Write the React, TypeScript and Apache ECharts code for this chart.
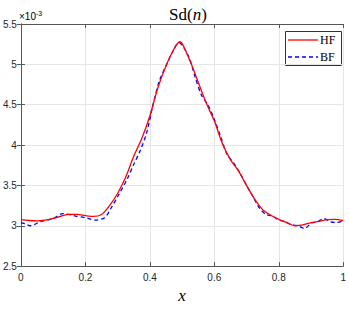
import React, { useEffect, useRef } from "react";
import * as echarts from "echarts";

const hfX = [0, 0.025, 0.05, 0.075, 0.1, 0.125, 0.15, 0.175, 0.2, 0.225, 0.25, 0.275, 0.3, 0.325, 0.35, 0.375, 0.4, 0.425, 0.45, 0.475, 0.493, 0.5, 0.525, 0.55, 0.575, 0.6, 0.625, 0.65, 0.675, 0.7, 0.725, 0.75, 0.775, 0.8, 0.825, 0.85, 0.875, 0.9, 0.925, 0.95, 0.975, 1.0];
const hfY = [3.075, 3.065, 3.06, 3.07, 3.09, 3.12, 3.14, 3.14, 3.125, 3.115, 3.14, 3.25, 3.40, 3.60, 3.86, 4.08, 4.36, 4.71, 4.98, 5.19, 5.28, 5.26, 5.04, 4.78, 4.52, 4.30, 4.02, 3.82, 3.68, 3.50, 3.33, 3.20, 3.13, 3.08, 3.04, 3.00, 3.01, 3.04, 3.055, 3.075, 3.08, 3.065];

const bfX = [0, 0.015, 0.03, 0.06, 0.1, 0.13, 0.17, 0.2, 0.23, 0.26, 0.28, 0.3, 0.33, 0.35, 0.37, 0.39, 0.41, 0.43, 0.45, 0.47, 0.49, 0.52, 0.54, 0.56, 0.58, 0.6, 0.62, 0.64, 0.66, 0.68, 0.7, 0.72, 0.74, 0.76, 0.78, 0.8, 0.82, 0.84, 0.86, 0.88, 0.9, 0.92, 0.94, 0.96, 0.98, 1.0];
const bfY = [3.04, 3.02, 3.0, 3.05, 3.09, 3.15, 3.12, 3.10, 3.07, 3.10, 3.22, 3.36, 3.58, 3.76, 3.93, 4.15, 4.50, 4.80, 4.98, 5.15, 5.27, 5.10, 4.85, 4.62, 4.50, 4.32, 4.10, 3.88, 3.78, 3.65, 3.50, 3.36, 3.22, 3.14, 3.12, 3.07, 3.05, 3.01, 3.00, 2.965, 3.03, 3.05, 3.09, 3.05, 3.04, 3.06];

const xTicks = [0, 0.2, 0.4, 0.6, 0.8, 1];
const yTicks = [2.5, 3, 3.5, 4, 4.5, 5, 5.5];
const seriesNames = ["HF", "BF"];

const axisColor = "#555555";
const labelColor = "#262626";
const serif = "Liberation Serif";
const sans = "Liberation Sans";

export default function App() {
  const ref = useRef<HTMLDivElement>(null);
  useEffect(() => {
    if (!ref.current) return;
    const chart = echarts.init(ref.current, null, { renderer: "svg" });
    const hfData = hfX.map((x, i) => [x, hfY[i]]);
    const bfData = bfX.map((x, i) => [x, bfY[i]]);
    const baseX = {
      type: "value" as const,
      min: xTicks[0],
      max: xTicks[xTicks.length - 1],
      interval: 0.2,
    };
    const baseY = {
      type: "value" as const,
      min: yTicks[0],
      max: yTicks[yTicks.length - 1],
      interval: 0.5,
    };
    const lx = 285, ly = 31, lw = 56, lh = 34;
    chart.setOption({
      animation: false,
      backgroundColor: "#ffffff",
      title: {
        text: "{a|Sd(}{b|n}{a|)}",
        left: 183,
        textAlign: "center",
        top: 1,
        textStyle: {
          fontFamily: serif,
          fontWeight: "normal",
          fontSize: 17,
          rich: {
            a: { fontFamily: serif, fontWeight: "normal", fontSize: 17, color: "#000" },
            b: { fontFamily: serif, fontWeight: "normal", fontSize: 17, fontStyle: "italic", color: "#000" },
          },
        },
      },
      grid: { left: 18, right: 1, top: 24, bottom: 33, containLabel: false },
      xAxis: [
        {
          ...baseX,
          position: "bottom",
          axisLine: { show: true, lineStyle: { color: axisColor, width: 1 } },
          axisTick: { show: true, inside: true, length: 4, lineStyle: { color: axisColor } },
          axisLabel: { color: labelColor, fontFamily: sans, fontSize: 10, margin: 6 },
          splitLine: { show: true, lineStyle: { color: "#e6e6e6", width: 1 } },
          name: "x",
          nameLocation: "middle",
          nameGap: 19,
          nameTextStyle: { fontFamily: serif, fontStyle: "italic", fontSize: 17, color: "#000" },
        },
        {
          ...baseX,
          position: "top",
          axisLine: { show: true, lineStyle: { color: axisColor, width: 1 } },
          axisTick: { show: true, inside: true, length: 4, lineStyle: { color: axisColor } },
          axisLabel: { show: false },
          splitLine: { show: false },
        },
      ],
      yAxis: [
        {
          ...baseY,
          position: "left",
          axisLine: { show: true, lineStyle: { color: axisColor, width: 1 } },
          axisTick: { show: true, inside: true, length: 4, lineStyle: { color: axisColor } },
          axisLabel: { color: labelColor, fontFamily: sans, fontSize: 10, margin: 4 },
          splitLine: { show: true, lineStyle: { color: "#e6e6e6", width: 1 } },
        },
        {
          ...baseY,
          position: "right",
          axisLine: { show: true, lineStyle: { color: axisColor, width: 1 } },
          axisTick: { show: true, inside: true, length: 4, lineStyle: { color: axisColor } },
          axisLabel: { show: false },
          splitLine: { show: false },
        },
      ],
      graphic: [
        {
          type: "text",
          left: 19,
          top: 10,
          style: {
            text: "{a|×10}{b|-3}",
            rich: {
              a: { fontFamily: sans, fontSize: 10, color: labelColor },
              b: { fontFamily: sans, fontSize: 7, color: labelColor, verticalAlign: "top", padding: [0, 0, 6, 0] },
            },
          },
        },
        {
          type: "group",
          z: 100,
          children: [
            {
              type: "rect",
              shape: { x: lx + 0.5, y: ly + 0.5, width: lw, height: lh },
              style: { fill: "#fff", stroke: "#333", lineWidth: 1 },
            },
            {
              type: "line",
              shape: { x1: lx + 3, y1: ly + 9, x2: lx + 33, y2: ly + 9 },
              style: { stroke: "#ff0000", lineWidth: 1.3 },
            },
            {
              type: "line",
              shape: { x1: lx + 3, y1: ly + 26, x2: lx + 33, y2: ly + 26 },
              style: { stroke: "#0000ff", lineWidth: 1.3, lineDash: [4, 3] },
            },
            {
              type: "text",
              x: lx + 35,
              y: ly + 9,
              style: { text: seriesNames[0], fontFamily: serif, fontSize: 12, fill: "#000", verticalAlign: "middle" },
            },
            {
              type: "text",
              x: lx + 35,
              y: ly + 26,
              style: { text: seriesNames[1], fontFamily: serif, fontSize: 12, fill: "#000", verticalAlign: "middle" },
            },
          ],
        },
      ],
      series: [
        {
          name: seriesNames[0],
          type: "line",
          data: hfData,
          smooth: 0.3,
          symbol: "none",
          showSymbol: false,
          lineStyle: { color: "#ff0000", width: 1.3, type: "solid" },
          itemStyle: { color: "#ff0000" },
          z: 3,
        },
        {
          name: seriesNames[1],
          type: "line",
          data: bfData,
          smooth: 0.3,
          symbol: "none",
          showSymbol: false,
          lineStyle: { color: "#0000ff", width: 1.3, type: [4, 3] },
          itemStyle: { color: "#0000ff" },
          z: 2,
        },
      ],
    });
    return () => chart.dispose();
  }, []);
  return <div ref={ref} style={{ width: 349, height: 309, position: "absolute", left: 0, top: 0 }} />;
}
